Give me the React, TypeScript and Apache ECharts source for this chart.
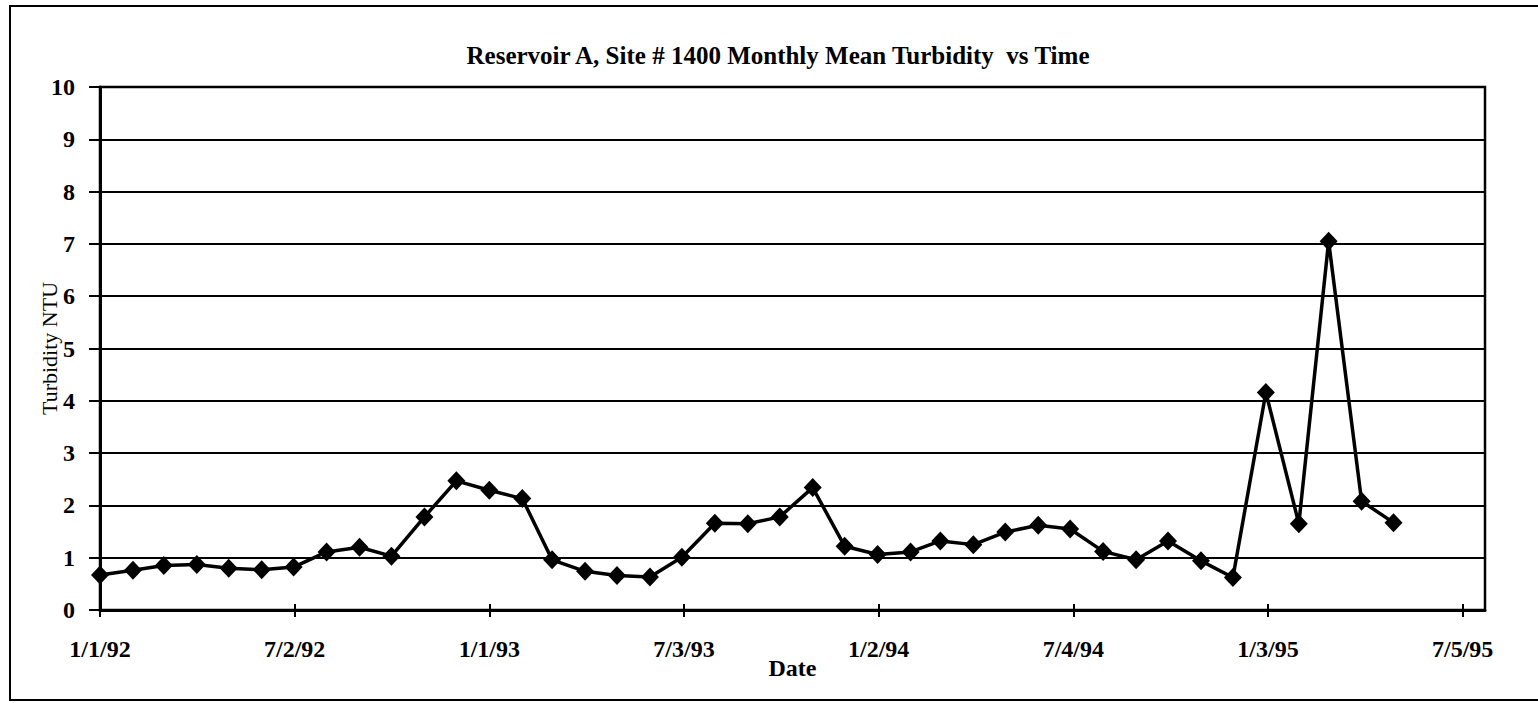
import React, { useEffect, useRef } from "react";
import * as echarts from "echarts";

const titleText = "Reservoir A, Site # 1400 Monthly Mean Turbidity  vs Time";
const xAxisName = "Date";
const yAxisName = "Turbidity NTU";
const axisStart = "1992-01-01";
const tickIntervalDays = 183;
const axisMaxDays = 1302;
const tickLabels = ["1/1/92", "7/2/92", "1/1/93", "7/3/93", "1/2/94", "7/4/94", "1/3/95", "7/5/95"];
const yTicks = [0, 1, 2, 3, 4, 5, 6, 7, 8, 9, 10];

const sampleDates = [
  "1992-01-01", "1992-02-01", "1992-03-01", "1992-04-01", "1992-05-01", "1992-06-01",
  "1992-07-01", "1992-08-01", "1992-09-01", "1992-10-01", "1992-11-01", "1992-12-01",
  "1993-01-01", "1993-02-01", "1993-03-01", "1993-04-01", "1993-05-01", "1993-06-01",
  "1993-07-01", "1993-08-01", "1993-09-01", "1993-10-01", "1993-11-01", "1993-12-01",
  "1994-01-01", "1994-02-01", "1994-03-01", "1994-04-01", "1994-05-01", "1994-06-01",
  "1994-07-01", "1994-08-01", "1994-09-01", "1994-10-01", "1994-11-01", "1994-12-01",
  "1995-01-01", "1995-02-01", "1995-03-01", "1995-04-01", "1995-05-01",
];

const turbidity = [
  0.67, 0.76, 0.85, 0.87, 0.8, 0.77, 0.82, 1.11, 1.2, 1.03, 1.78, 2.47,
  2.29, 2.13, 0.96, 0.74, 0.66, 0.63, 1.01, 1.66, 1.65, 1.78, 2.34, 1.22,
  1.06, 1.11, 1.32, 1.25, 1.49, 1.62, 1.55, 1.12, 0.96, 1.32, 0.94, 0.62,
  4.16, 1.65, 7.05, 2.08, 1.67,
];

const FONT = '"Liberation Serif", "Times New Roman", serif';

function dayOffset(iso: string): number {
  const [y, m, d] = iso.split("-").map(Number);
  const [y0, m0, d0] = axisStart.split("-").map(Number);
  return Math.round((Date.UTC(y, m - 1, d) - Date.UTC(y0, m0 - 1, d0)) / 86400000);
}

function tickFormatter(v: number): string {
  const i = Math.round(v / tickIntervalDays);
  if (Math.abs(v - i * tickIntervalDays) < 0.5 && i >= 0 && i < tickLabels.length) return tickLabels[i];
  return "";
}

export default function App() {
  const ref = useRef<HTMLDivElement>(null);
  useEffect(() => {
    if (!ref.current) return;
    const chart = echarts.init(ref.current, null, { renderer: "svg" });
    const seriesData = sampleDates.map((d, i) => [dayOffset(d), turbidity[i]]);
    chart.setOption({
      animation: false,
      backgroundColor: "#ffffff",
      textStyle: { fontFamily: FONT, color: "#000" },
      graphic: [
        {
          type: "rect",
          shape: { x: 10, y: 6, width: 1560, height: 694 },
          style: { fill: "none", stroke: "#000", lineWidth: 2 },
          silent: true,
        },
        {
          type: "text",
          x: 778,
          y: 55,
          style: {
            text: titleText,
            fontFamily: FONT,
            fontWeight: "bold",
            fontSize: 25,
            fill: "#000",
            textAlign: "center",
            textVerticalAlign: "middle",
          },
        },
      ],
      grid: {
        left: 100,
        right: 53,
        top: 87,
        bottom: 93,
        show: true,
        borderColor: "#000",
        borderWidth: 2.5,
        backgroundColor: "transparent",
      },
      xAxis: [
        {
          type: "value",
          min: 0,
          max: axisMaxDays,
          interval: tickIntervalDays,
          name: xAxisName,
          nameLocation: "middle",
          nameGap: 46,
          nameMoveOverlap: false,
          nameTextStyle: { fontFamily: FONT, fontWeight: "bold", fontSize: 24, color: "#000" },
          axisLine: { show: true, lineStyle: { color: "#000", width: 3 } },
          axisTick: { show: true, inside: false, length: 7, lineStyle: { color: "#000", width: 2 } },
          axisLabel: {
            show: true,
            margin: 27,
            fontFamily: FONT,
            fontWeight: "bold",
            fontSize: 24,
            color: "#000",
            formatter: tickFormatter,
            showMaxLabel: false,
          },
          splitLine: { show: false },
        },
        {
          type: "value",
          position: "bottom",
          min: 0,
          max: axisMaxDays,
          interval: tickIntervalDays,
          axisLine: { show: false },
          axisTick: { show: true, inside: true, length: 6, lineStyle: { color: "#000", width: 2 } },
          axisLabel: { show: false },
          splitLine: { show: false },
        },
      ],
      yAxis: [
        {
          type: "value",
          min: yTicks[0],
          max: yTicks[yTicks.length - 1],
          interval: 1,
          name: yAxisName,
          nameLocation: "middle",
          nameGap: 40,
          nameMoveOverlap: false,
          nameTextStyle: { fontFamily: FONT, fontSize: 22, color: "#000" },
          axisLine: { show: true, lineStyle: { color: "#000", width: 3 } },
          axisTick: { show: true, inside: false, length: 11, lineStyle: { color: "#000", width: 2 } },
          axisLabel: { margin: 25, fontFamily: FONT, fontWeight: "bold", fontSize: 24, color: "#000" },
          splitLine: { show: true, lineStyle: { color: "#000", width: 2 } },
        },
        {
          type: "value",
          position: "left",
          min: yTicks[0],
          max: yTicks[yTicks.length - 1],
          interval: 1,
          axisLine: { show: false },
          axisTick: { show: true, inside: true, length: 6, lineStyle: { color: "#000", width: 2 } },
          axisLabel: { show: false },
          splitLine: { show: false },
        },
      ],
      series: [
        {
          type: "line",
          data: seriesData,
          xAxisIndex: 0,
          yAxisIndex: 0,
          symbol: "diamond",
          symbolSize: [18, 19],
          lineStyle: { color: "#000", width: 3.5 },
          itemStyle: { color: "#000" },
          clip: false,
        },
      ],
    });
    return () => chart.dispose();
  }, []);
  return (
    <div
      ref={ref}
      style={{ position: "fixed", left: 0, top: 0, width: 1538, height: 703, background: "#fff" }}
    />
  );
}
